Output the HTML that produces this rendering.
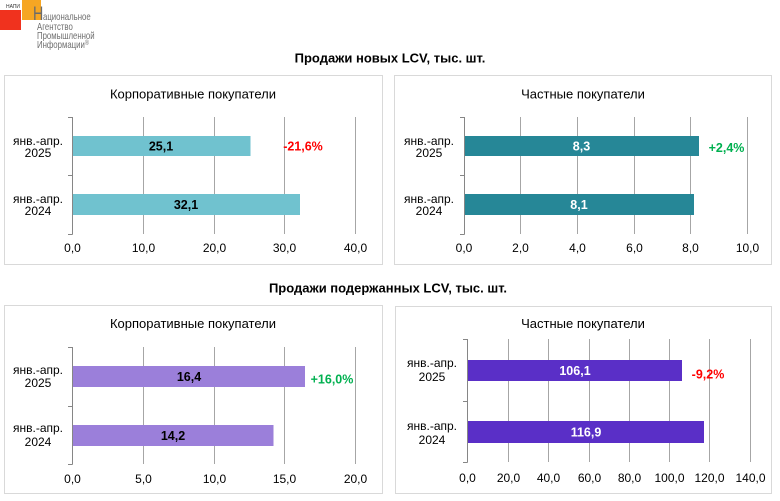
<!DOCTYPE html>
<html><head><meta charset="utf-8">
<style>
html,body{margin:0;padding:0;background:#fff;}
svg{display:block;font-family:"Liberation Sans",Arial,sans-serif;}
</style></head>
<body>
<svg width="780" height="501" viewBox="0 0 780 501" xmlns="http://www.w3.org/2000/svg">
<rect width="780" height="501" fill="#fff"/>
<!-- logo -->
<rect x="22" y="0" width="19" height="20" fill="#F6A623"/>
<rect x="0" y="10" width="21" height="20" fill="#F0321E"/>
<text x="13" y="8" font-size="5" fill="#333" text-anchor="middle">НАПИ</text>
<text x="33" y="20" font-size="19" fill="#6b6b6b" transform="translate(33 0) scale(0.75 1) translate(-33 0)">Н</text>
<g font-size="10" fill="#6e6e6e">
<text x="0" y="0" transform="translate(43 20) scale(0.78 1)">ациональное</text>
<text x="0" y="0" transform="translate(37 30) scale(0.78 1)">Агентство</text>
<text x="0" y="0" transform="translate(37 39) scale(0.78 1)">Промышленной</text>
<text x="0" y="0" transform="translate(37 48) scale(0.78 1)">Информации<tspan font-size="7" dy="-3">®</tspan></text>
</g>

<!-- section titles -->
<text x="390" y="62.5" font-size="13" font-weight="bold" text-anchor="middle" fill="#000">Продажи новых LCV, тыс. шт.</text>
<text x="388" y="292.5" font-size="13" font-weight="bold" text-anchor="middle" fill="#000">Продажи подержанных LCV, тыс. шт.</text>

<!-- ========== Panel 1 ========== -->
<rect x="4.5" y="75.5" width="378" height="189" fill="#fff" stroke="#D9D9D9" stroke-width="1"/>
<text x="193" y="98.5" font-size="13" text-anchor="middle" fill="#000">Корпоративные покупатели</text>
<g stroke="#A6A6A6" stroke-width="1">
<line x1="143.5" y1="117" x2="143.5" y2="234"/>
<line x1="214.5" y1="117" x2="214.5" y2="234"/>
<line x1="284.5" y1="117" x2="284.5" y2="234"/>
<line x1="355.5" y1="117" x2="355.5" y2="234"/>
</g>
<rect x="73" y="136" width="177.5" height="20" fill="#70C2CF"/>
<rect x="73" y="194" width="227" height="21" fill="#70C2CF"/>
<g stroke="#868686" stroke-width="1">
<line x1="72.5" y1="117" x2="72.5" y2="234.5"/>
<line x1="68" y1="117.5" x2="72.5" y2="117.5"/>
<line x1="68" y1="175.5" x2="72.5" y2="175.5"/>
<line x1="68" y1="234.5" x2="72.5" y2="234.5"/>
</g>
<g font-size="12" fill="#000" text-anchor="middle">
<text x="38" y="145">янв.-апр.</text><text x="38" y="157">2025</text>
<text x="38" y="203">янв.-апр.</text><text x="38" y="215">2024</text>
<text x="72.5" y="252">0,0</text><text x="143.5" y="252">10,0</text><text x="214.5" y="252">20,0</text><text x="284.5" y="252">30,0</text><text x="355.5" y="252">40,0</text>
</g>
<g font-size="12.5" font-weight="bold" text-anchor="middle">
<text x="161" y="150.5" fill="#000">25,1</text>
<text x="186" y="209" fill="#000">32,1</text>
<text x="303" y="150.5" fill="#FF0000">-21,6%</text>
</g>

<!-- ========== Panel 2 ========== -->
<rect x="394.5" y="75.5" width="377" height="189" fill="#fff" stroke="#D9D9D9" stroke-width="1"/>
<text x="583" y="98.5" font-size="13" text-anchor="middle" fill="#000">Частные покупатели</text>
<g stroke="#A6A6A6" stroke-width="1">
<line x1="520.5" y1="117" x2="520.5" y2="234"/>
<line x1="577.5" y1="117" x2="577.5" y2="234"/>
<line x1="634.5" y1="117" x2="634.5" y2="234"/>
<line x1="690.5" y1="117" x2="690.5" y2="234"/>
<line x1="747.5" y1="117" x2="747.5" y2="234"/>
</g>
<rect x="464" y="136" width="235" height="20" fill="#268797"/>
<rect x="464" y="194" width="230" height="21" fill="#268797"/>
<g stroke="#868686" stroke-width="1">
<line x1="464.5" y1="117" x2="464.5" y2="234.5"/>
<line x1="460" y1="117.5" x2="464.5" y2="117.5"/>
<line x1="460" y1="175.5" x2="464.5" y2="175.5"/>
<line x1="460" y1="234.5" x2="464.5" y2="234.5"/>
</g>
<g font-size="12" fill="#000" text-anchor="middle">
<text x="429" y="145">янв.-апр.</text><text x="429" y="157">2025</text>
<text x="429" y="203">янв.-апр.</text><text x="429" y="215">2024</text>
<text x="464" y="252">0,0</text><text x="520.5" y="252">2,0</text><text x="577.5" y="252">4,0</text><text x="634.5" y="252">6,0</text><text x="690.5" y="252">8,0</text><text x="747.5" y="252">10,0</text>
</g>
<g font-size="12.5" font-weight="bold" text-anchor="middle">
<text x="581.5" y="150.5" fill="#fff">8,3</text>
<text x="579" y="209" fill="#fff">8,1</text>
<text x="726.5" y="152" fill="#00B050">+2,4%</text>
</g>

<!-- ========== Panel 3 ========== -->
<rect x="4.5" y="305.5" width="378" height="188" fill="#fff" stroke="#D9D9D9" stroke-width="1"/>
<text x="193" y="328" font-size="13" text-anchor="middle" fill="#000">Корпоративные покупатели</text>
<g stroke="#A6A6A6" stroke-width="1">
<line x1="143.5" y1="347" x2="143.5" y2="464"/>
<line x1="214.5" y1="347" x2="214.5" y2="464"/>
<line x1="284.5" y1="347" x2="284.5" y2="464"/>
<line x1="355.5" y1="347" x2="355.5" y2="464"/>
</g>
<rect x="73" y="366" width="232" height="21" fill="#9B7FDA"/>
<rect x="73" y="425" width="200.5" height="21" fill="#9B7FDA"/>
<g stroke="#868686" stroke-width="1">
<line x1="72.5" y1="347" x2="72.5" y2="464.5"/>
<line x1="68" y1="347.5" x2="72.5" y2="347.5"/>
<line x1="68" y1="406.5" x2="72.5" y2="406.5"/>
<line x1="68" y1="464.5" x2="72.5" y2="464.5"/>
</g>
<g font-size="12" fill="#000" text-anchor="middle">
<text x="38" y="374">янв.-апр.</text><text x="38" y="387">2025</text>
<text x="38" y="432">янв.-апр.</text><text x="38" y="446">2024</text>
<text x="72.5" y="483">0,0</text><text x="143.5" y="483">5,0</text><text x="214.5" y="483">10,0</text><text x="284.5" y="483">15,0</text><text x="355.5" y="483">20,0</text>
</g>
<g font-size="12.5" font-weight="bold" text-anchor="middle">
<text x="189" y="381" fill="#000">16,4</text>
<text x="173" y="440" fill="#000">14,2</text>
<text x="332" y="383.5" fill="#00B050">+16,0%</text>
</g>

<!-- ========== Panel 4 ========== -->
<rect x="395.5" y="306.5" width="376" height="187" fill="#fff" stroke="#D9D9D9" stroke-width="1"/>
<text x="583" y="328" font-size="13" text-anchor="middle" fill="#000">Частные покупатели</text>
<g stroke="#A6A6A6" stroke-width="1">
<line x1="508.5" y1="339" x2="508.5" y2="462"/>
<line x1="548.5" y1="339" x2="548.5" y2="462"/>
<line x1="589.5" y1="339" x2="589.5" y2="462"/>
<line x1="629.5" y1="339" x2="629.5" y2="462"/>
<line x1="669.5" y1="339" x2="669.5" y2="462"/>
<line x1="709.5" y1="339" x2="709.5" y2="462"/>
<line x1="750.5" y1="339" x2="750.5" y2="462"/>
</g>
<rect x="468" y="360" width="214" height="21" fill="#5A2FC7"/>
<rect x="468" y="421" width="236" height="22" fill="#5A2FC7"/>
<g stroke="#868686" stroke-width="1">
<line x1="467.5" y1="339" x2="467.5" y2="462.5"/>
<line x1="463" y1="339.5" x2="467.5" y2="339.5"/>
<line x1="463" y1="401.5" x2="467.5" y2="401.5"/>
<line x1="463" y1="462.5" x2="467.5" y2="462.5"/>
</g>
<g font-size="12" fill="#000" text-anchor="middle">
<text x="432" y="367">янв.-апр.</text><text x="432" y="381">2025</text>
<text x="432" y="430">янв.-апр.</text><text x="432" y="444">2024</text>
<text x="467.5" y="482">0,0</text><text x="508.5" y="482">20,0</text><text x="548.5" y="482">40,0</text><text x="589.5" y="482">60,0</text><text x="629.5" y="482">80,0</text><text x="669.5" y="482">100,0</text><text x="709.5" y="482">120,0</text><text x="750.5" y="482">140,0</text>
</g>
<g font-size="12.5" font-weight="bold" text-anchor="middle">
<text x="575" y="375" fill="#fff">106,1</text>
<text x="586" y="436.5" fill="#fff">116,9</text>
<text x="708" y="378.5" fill="#FF0000">-9,2%</text>
</g>
</svg>
</body></html>
